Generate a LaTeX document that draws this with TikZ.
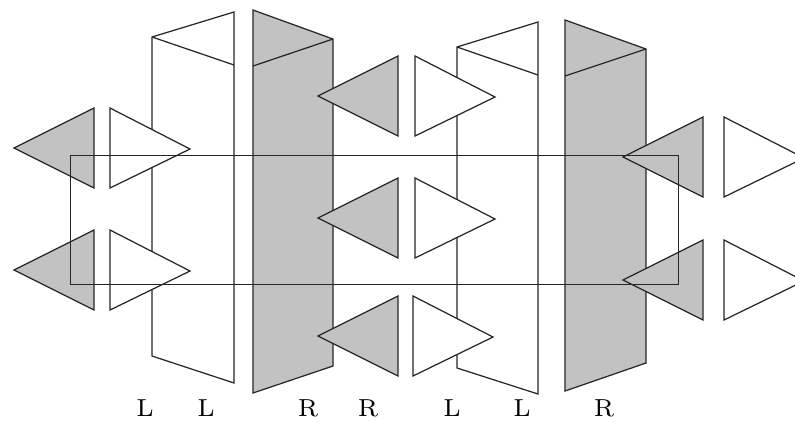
\documentclass[tikz,border=0pt]{standalone}
\usepackage{tikz}
\usetikzlibrary{calc}
\usepackage{xcolor}
\definecolor{panelgray}{RGB}{194,194,194}
\tikzset{
  plate/.style={draw=black!85, line width=0.35pt, fill=white, line join=miter},
  grayplate/.style={plate, fill=panelgray},
  handlabel/.style={font=\scriptsize, inner sep=0pt}
}
% x left, x right, y top left, y top right, y bottom left, y bottom right
\newcommand{\panelL}[6]{%
  \draw[plate] (#1,#3) -- (#2,#4) -- (#2,#6) -- (#1,#5) -- cycle;
  \draw[plate, fill=none] (#1,#3) -- (#2,{#4+0.53});
}
\newcommand{\panelR}[6]{%
  \draw[grayplate] (#1,#3) -- (#2,#4) -- (#2,#6) -- (#1,#5) -- cycle;
  \draw[plate, fill=none] (#1,{#3+0.56}) -- (#2,#4);
}

\begin{document}
\begin{tikzpicture}[yscale=-1]
  \useasboundingbox (0,0) rectangle (7.95,4.21);
  % the four folded plates
  \panelL{1.52}{2.34}{0.37}{0.12}{3.56}{3.83}
  \panelR{2.53}{3.33}{0.10}{0.39}{3.93}{3.66}
  \panelL{4.57}{5.38}{0.47}{0.22}{3.68}{3.94}
  \panelR{5.65}{6.46}{0.20}{0.49}{3.91}{3.63}
  % pairs of triangles, each column: grey side, gap, white side
  \foreach \xb/\xw/\ym in {0.94/1.10/1.48, 0.94/1.10/2.70, 3.98/4.15/0.96, 3.98/4.15/2.18, 3.98/4.13/3.36, 7.03/7.24/1.57, 7.03/7.24/2.80} {
    \draw[grayplate] (\xb,\ym-0.40) -- (\xb,\ym+0.40) -- (\xb-0.80,\ym) -- cycle;
    \draw[plate] (\xw,\ym-0.40) -- (\xw,\ym+0.40) -- (\xw+0.80,\ym+0.01) -- cycle;
  }
  % window
  \draw[plate, fill=none] (0.705,1.555) rectangle (6.785,2.845);
  % labels
  \foreach \x/\t [count=\i] in {1.45/L, 2.06/L, 3.08/R, 3.68/R, 4.52/L, 5.22/L, 6.04/R}
    \node[handlabel] (label\i) at (\x,4.08) {\t};
\end{tikzpicture}
\end{document}
